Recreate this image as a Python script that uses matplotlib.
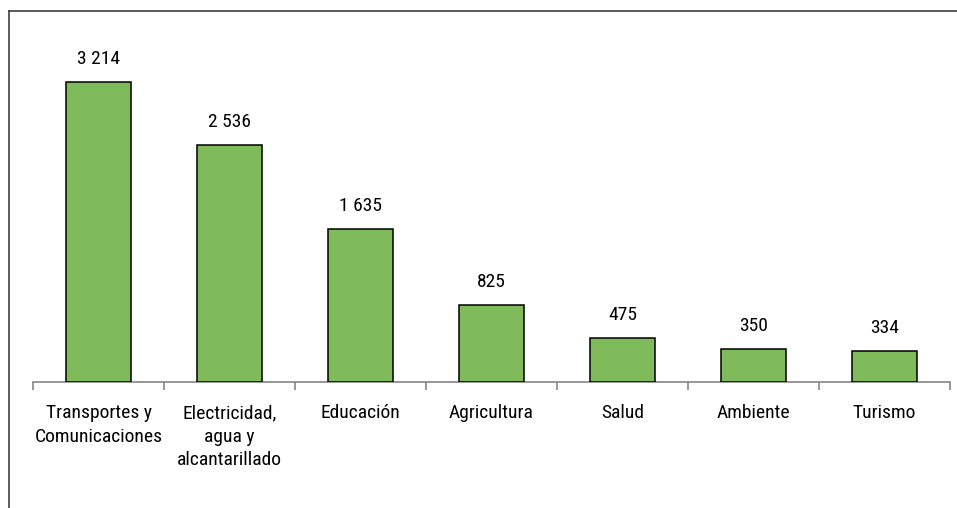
import matplotlib
matplotlib.use("Agg")
import matplotlib.pyplot as plt
from matplotlib import font_manager
from matplotlib.lines import Line2D

categories = ["Transportes y\nComunicaciones", "Electricidad,\nagua y\nalcantarillado",
              "Educación", "Agricultura", "Salud", "Ambiente", "Turismo"]
values = [3214, 2536, 1635, 825, 475, 350, 334]
value_labels = ["3 214", "2 536", "1 635", "825", "475", "350", "334"]

# choose a narrow font if available
fam = None
for cand in ["Liberation Sans Narrow", "Arial Narrow", "Roboto Condensed", "DejaVu Sans Condensed"]:
    try:
        font_manager.findfont(font_manager.FontProperties(family=cand), fallback_to_default=False)
        fam = cand
        break
    except Exception:
        pass
if fam is None:
    fam = "Liberation Sans"
    fs = 12.5
else:
    fs = 14

plt.rcParams['font.family'] = [fam, 'Liberation Sans', 'DejaVu Sans']

W, H = 957, 508
fig = plt.figure(figsize=(W / 100, H / 100), dpi=100)
ax = fig.add_axes([33 / W, (H - 382) / H, (950 - 33) / W, (382 - 30) / H])

x = list(range(len(values)))
ax.bar(x, values, width=0.5, color="#7FBA5B", edgecolor="black", linewidth=1.1, zorder=3)
ax.set_xlim(-0.5, len(values) - 0.5)
ax.set_ylim(0, 3772)

for xi, v, lab in zip(x, values, value_labels):
    ax.annotate(lab, (xi, v), xytext=(0, 13), textcoords="offset points",
                ha="center", va="baseline", fontsize=fs, color="black")

for s in ["top", "right", "left"]:
    ax.spines[s].set_visible(False)
ax.spines["bottom"].set_color("#868686")
ax.spines["bottom"].set_linewidth(1.2)
ax.set_yticks([])

ax.set_xticks(x)
ax.set_xticklabels(categories, fontsize=fs, linespacing=1.38)
ax.tick_params(axis="x", which="major", length=0, pad=16)
ax.set_xticks([i - 0.5 for i in range(len(values) + 1)], minor=True)
ax.tick_params(axis="x", which="minor", length=6, color="#868686", width=1.2, direction="out")

# outer border (extends off the right and bottom edges)
fig.add_artist(Line2D([8.5 / W, 1.01], [1 - 11 / H, 1 - 11 / H], transform=fig.transFigure,
                      color="#404040", linewidth=1.2))
fig.add_artist(Line2D([8.5 / W, 8.5 / W], [1 - 11 / H, -0.01], transform=fig.transFigure,
                      color="#404040", linewidth=1.2))

fig.savefig("out.png", dpi=100)
